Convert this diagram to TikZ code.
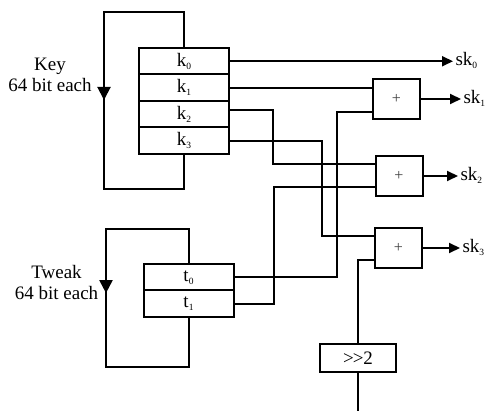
\documentclass[tikz,border=0pt]{standalone}
\usepackage{fontspec}
\setmainfont{Liberation Serif}
\usetikzlibrary{arrows.meta,decorations.markings}
\newcommand{\idx}[1]{\raisebox{-3pt}{\fontsize{9.5}{9.5}\selectfont #1}}

\begin{document}
\begin{tikzpicture}[x=1pt,y=-1pt,line width=2pt,
 txt/.style={font=\fontsize{19}{21}\selectfont},
 reg/.style={draw,txt,minimum width=90pt,minimum height=26.5pt,inner sep=0pt},
 adder/.style={draw,minimum width=47pt,minimum height=40pt,inner sep=0pt,text=black!75,font=\fontsize{16}{16}\selectfont},
 outarr/.style={-{Triangle[length=11pt,width=10pt]}},
 ring/.style={postaction={decorate},decoration={markings,mark=at position #1 with {\arrow{Triangle[length=13pt,width=13pt]}}}}]
\useasboundingbox (0,0) rectangle (487,411);
\foreach \i/\y in {0/61.25,1/87.75,2/114.25,3/140.75}{
\node[reg] (k\i) at (184,\y) {k\idx{\i}};};
\foreach \i/\y in {0/277.25,1/303.75}{
\node[reg] (t\i) at (188.5,\y) {t\idx{\i}};};
\node[txt,align=center] (keylbl) at (50,75) {Key\\64 bit each};
\node[txt,align=center] (tweaklbl) at (56.5,283) {Tweak\\64 bit each};
\node[adder] (a1) at (396.5,99) {+};
\node[adder] (a2) at (399,176) {+};
\node[adder] (a3) at (398.5,248) {+};
\node[draw,txt,minimum width=76pt,minimum height=28pt,inner sep=0pt] (sh) at (358,358) {\mbox{\textgreater}\kern-1pt\mbox{\textgreater}2};
\coordinate (src) at (358,411);
\node[txt,anchor=base west,inner sep=1.5pt] (sk0) at (453,66) {sk\idx{0}};
\node[txt,anchor=base west,inner sep=1.5pt] (sk1) at (461,104) {sk\idx{1}};
\node[txt,anchor=base west,inner sep=1.5pt] (sk2) at (458,181) {sk\idx{2}};
\node[txt,anchor=base west,inner sep=1.5pt] (sk3) at (460,253) {sk\idx{3}};
\draw[ring=0.5] (k0.north) |- (104,12) -- (104,189) -| (k3.south);
\draw[ring=0.468] (t0.north) |- (106,229) -- (106,367) -| (t1.south);
\draw (k1.east) -- (k1.east -| a1.west);
\draw ([yshift=4pt]k2.east) -- ++(43,0) |- ([yshift=12pt]a2.west);
\draw (k3.east) -- ++(92,0) |- ([yshift=12pt]a3.west);
\draw (t0.east) -- ++(102,0) |- ([yshift=-13pt]a1.west);
\draw (t1.east) -- ++(39.5,0) |- ([yshift=-11pt]a2.west);
\draw ([yshift=-12pt]a3.west) -| (sh.north);
\draw (sh.south) -- (src);
\draw[outarr] (k0.east) -- (k0.east -| sk0.west);
\foreach \n in {1,2,3}{
\draw[outarr] (a\n.east) -- (a\n.east -| sk\n.west);};
\end{tikzpicture}
\end{document}
